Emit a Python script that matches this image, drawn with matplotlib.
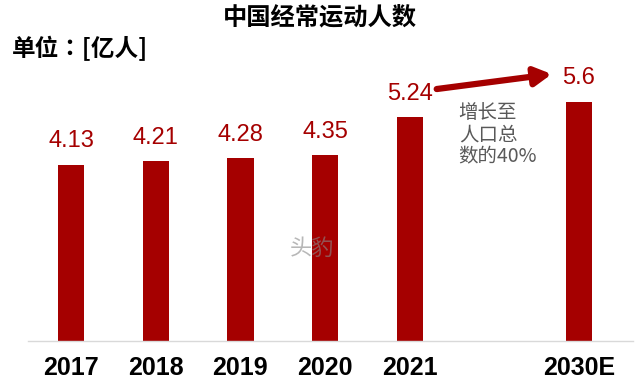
import matplotlib
matplotlib.use("Agg")
import matplotlib.pyplot as plt

years = ["2017", "2018", "2019", "2020", "2021", "2030E"]
positions = [0, 1, 2, 3, 4, 6]
values = [4.13, 4.21, 4.28, 4.35, 5.24, 5.6]
value_labels = ["4.13", "4.21", "4.28", "4.35", "5.24", "5.6"]
title = "中国经常运动人数"
unit_text = "单位：[亿人]"
note_text = "增长至\n人口总\n数的40%"
watermark = "头豹"

RED = "#A50000"
CJK = ["Noto Sans CJK SC", "DejaVu Sans"]
CJK_TC = ["Noto Sans CJK TC", "DejaVu Sans"]
NUM = ["Liberation Sans", "DejaVu Sans"]

fig = plt.figure(figsize=(6.4, 3.88), dpi=100)
ax = fig.add_axes([28 / 640, 47 / 388, (633 - 28) / 640, 281 / 388])

ax.bar(positions, values, width=0.31, color=RED, zorder=2)
ax.set_xlim(-0.51, 6.64)
ax.set_ylim(0, 6.58)

for s in ["top", "right", "left"]:
    ax.spines[s].set_visible(False)
ax.spines["bottom"].set_color("#D9D9D9")
ax.spines["bottom"].set_linewidth(1.0)
ax.set_yticks([])
ax.set_xticks(positions)
ax.set_xticklabels(years, family=NUM, fontsize=18, fontweight="bold", color="black")
ax.tick_params(axis="x", length=0, pad=11)

for x, v, lab in zip(positions, values, value_labels):
    ax.annotate(lab, (x, v), xytext=(0, 9), textcoords="offset points",
                ha="center", va="bottom", family=NUM, fontsize=17, color=RED)

# arrow from 2021 label to 2030E label
ax.annotate("", xy=(positions[5] - 0.32, values[5] + 0.65),
            xytext=(positions[4] + 0.32, values[4] + 0.66),
            arrowprops=dict(arrowstyle="-|>,head_length=1.0,head_width=0.55",
                            color=RED, lw=4.5, shrinkA=0, shrinkB=0))

ax.text(positions[4] + 0.58, values[4] + 0.36, note_text, ha="left", va="top",
        family=CJK, fontsize=14, fontweight="medium", color="#595959",
        linespacing=1.08)

ax.text(2.85, 2.18, watermark, ha="center", va="center", family=CJK,
        fontsize=16, color="#888888", alpha=0.6, zorder=3)

fig.text(0.5, 1 - 18 / 388, title, ha="center", va="center", family=CJK,
         fontsize=17.5, fontweight="bold", color="black")
fig.text(12 / 640, 1 - 48 / 388, unit_text, ha="left", va="center", family=CJK_TC,
         fontsize=17, fontweight="bold", color="black")

fig.savefig("out.png", dpi=100)
